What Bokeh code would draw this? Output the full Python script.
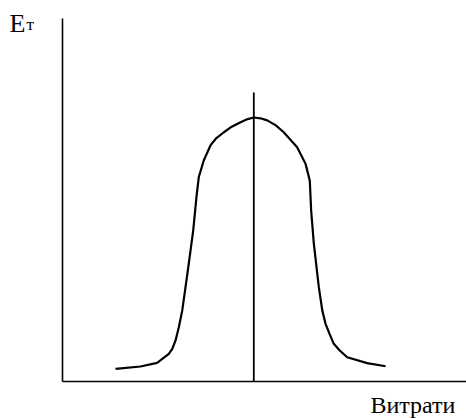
from bokeh.plotting import figure
from bokeh.models import Range1d, FixedTicker, Label, LinearAxis
from bokeh.embed import file_html
from bokeh.resources import INLINE

# Traced curve: "Витрати" (costs) vs "Eт" (effect), arbitrary units, peak at x=10
cost_x = [2.79, 4.09, 4.96, 5.57, 5.75, 5.92, 6.09, 6.27, 6.56, 6.84, 7.01, 7.13,
          7.39, 7.74, 8.05, 8.44, 8.85, 9.31, 9.68, 10.0,
          10.35, 10.70, 11.15, 11.56, 12.26, 12.70, 12.92, 12.99, 13.13, 13.39,
          13.57, 13.74, 13.95, 14.17, 14.48, 14.87, 15.91, 16.87]
effect_y = [0.46, 0.55, 0.69, 1.03, 1.22, 1.54, 2.04, 2.68, 4.19, 5.71, 6.98, 7.73,
            8.37, 8.94, 9.22, 9.44, 9.65, 9.82, 9.94, 10.0,
            9.97, 9.89, 9.70, 9.44, 8.87, 8.24, 7.60, 6.47, 5.21, 3.56,
            2.68, 2.17, 1.79, 1.41, 1.16, 0.90, 0.68, 0.56]

peak_x = 10.0
marker_top = 10.95
x_axis_end = 21.09
y_axis_end = 13.76

y_label_main = "E"
y_label_sub = "т"
x_label = "Витрати"

p = figure(width=466, height=418, output_backend="svg", toolbar_location=None,
           x_range=Range1d(-3.207, 21.09), y_range=Range1d(-1.423, 14.44),
           x_axis_type=None, y_axis_type=None,
           min_border_left=0, min_border_right=0, min_border_top=0,
           min_border_bottom=0)
p.outline_line_color = None
p.background_fill_color = "white"
p.border_fill_color = "white"


def make_axis(bounds):
    ax = LinearAxis(fixed_location=0, bounds=bounds, ticker=FixedTicker(ticks=[]))
    ax.major_tick_line_color = None
    ax.minor_tick_line_color = None
    ax.major_tick_out = 0
    ax.major_tick_in = 0
    ax.minor_tick_out = 0
    ax.minor_tick_in = 0
    ax.major_label_standoff = 0
    ax.major_label_text_font_size = "0px"
    ax.major_label_text_color = None
    ax.axis_line_color = "black"
    ax.axis_line_width = 1.6
    return ax


p.add_layout(make_axis((0, y_axis_end)), "left")
p.add_layout(make_axis((0, x_axis_end)), "below")

p.line(cost_x, effect_y, line_color="black", line_width=2.2)
p.segment(x0=[peak_x], y0=[0], x1=[peak_x], y1=[marker_top],
          line_color="black", line_width=1.8)

font = "Liberation Serif"
p.add_layout(Label(x=-2.74, y=13.56, text=y_label_main, text_font=font,
                   text_font_size="26px", text_color="black",
                   text_baseline="alphabetic"))
p.add_layout(Label(x=-1.85, y=13.53, text=y_label_sub, text_font=font,
                   text_font_size="17px", text_color="black",
                   text_baseline="alphabetic"))
p.add_layout(Label(x=16.08, y=-0.90, text=x_label, text_font=font,
                   text_font_size="24px", text_color="black",
                   text_baseline="alphabetic"))

open("out.html", "w").write(file_html(p, INLINE))
